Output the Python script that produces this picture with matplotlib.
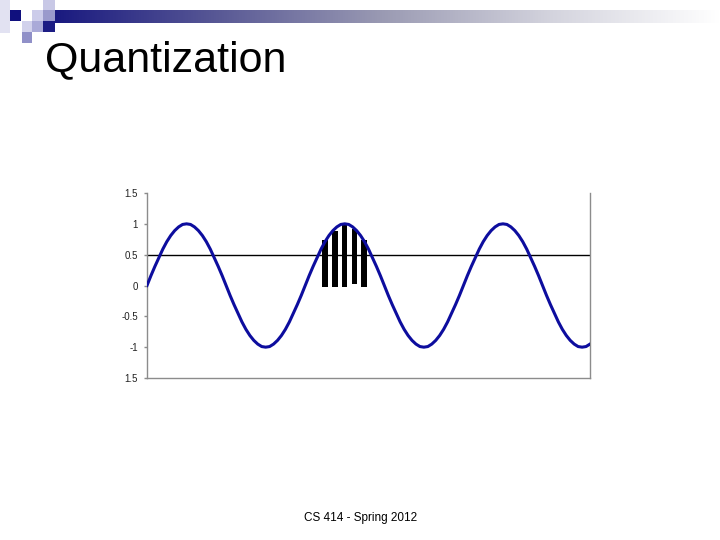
import numpy as np
import matplotlib
matplotlib.use("Agg")
import matplotlib.pyplot as plt
from matplotlib.patches import Rectangle
from matplotlib.colors import LinearSegmentedColormap

# ---- data ----
# sampled signal (40 samples per period), index positions 0..112
signal = [0, 0.16, 0.31, 0.45, 0.59, 0.71, 0.81, 0.89, 0.95, 0.99,
          1.0, 0.99, 0.95, 0.89, 0.81, 0.71, 0.59, 0.45, 0.31, 0.16,
          0, -0.16, -0.31, -0.45, -0.59, -0.71, -0.81, -0.89, -0.95, -0.99,
          -1.0, -0.99, -0.95, -0.89, -0.81, -0.71, -0.59, -0.45, -0.31, -0.16,
          0, 0.16, 0.31, 0.45, 0.59, 0.71, 0.81, 0.89, 0.95, 0.99,
          1.0, 0.99, 0.95, 0.89, 0.81, 0.71, 0.59, 0.45, 0.31, 0.16,
          0, -0.16, -0.31, -0.45, -0.59, -0.71, -0.81, -0.89, -0.95, -0.99,
          -1.0, -0.99, -0.95, -0.89, -0.81, -0.71, -0.59, -0.45, -0.31, -0.16,
          0, 0.16, 0.31, 0.45, 0.59, 0.71, 0.81, 0.89, 0.95, 0.99,
          1.0, 0.99, 0.95, 0.89, 0.81, 0.71, 0.59, 0.45, 0.31, 0.16,
          0, -0.16, -0.31, -0.45, -0.59, -0.71, -0.81, -0.89, -0.95, -0.99,
          -1.0, -0.99, -0.95]
bar_x = [45.0, 47.5, 50.0, 52.5, 54.9]
bar_top = [0.73, 0.89, 0.98, 0.91, 0.73]
bar_bottom = [-0.03, -0.03, -0.03, 0.02, -0.03]
level_line = 0.5
yticks = [1.5, 1, 0.5, 0, -0.5, -1, -1.5]
ytick_labels = ["1.5", "1", "0.5", "0", "-0.5", "-1", "1.5"]
title = "Quantization"
footer = "CS 414 - Spring 2012"

W, H = 720, 540
fig = plt.figure(figsize=(7.2, 5.4), dpi=100)
fig.patch.set_facecolor("white")
FONT = ["Liberation Sans", "DejaVu Sans"]

def px_rect(x, y, w, h, color):
    fig.patches.append(Rectangle((x / W, 1 - (y + h) / H), w / W, h / H,
                                 transform=fig.transFigure, facecolor=color,
                                 edgecolor="none", zorder=1))

# decorative squares
px_rect(0, 0, 10, 33, "#e2e2f2")
px_rect(10, 10, 11, 11, "#10107e")
px_rect(43, 0, 12, 10, "#c8c8e6")
px_rect(32, 10, 11, 11, "#ccccea")
px_rect(43, 10, 12, 11, "#9a9acc")
px_rect(22, 21, 10, 11, "#d2d2ec")
px_rect(32, 21, 11, 11, "#aaaad8")
px_rect(43, 21, 12, 11, "#1c1c84")
px_rect(22, 32, 10, 11, "#9090c8")

# gradient bar
gax = fig.add_axes([55 / W, 1 - 23 / H, (W - 55) / W, 13 / H])
cmap = LinearSegmentedColormap.from_list(
    "g", [(0, "#1a1a80"), (0.25, "#5a5a96"), (0.5, "#9c9cb4"),
          (0.75, "#d4d4de"), (1.0, "#ffffff")])
gax.imshow(np.linspace(0, 1, 256)[None, :], aspect="auto", cmap=cmap)
gax.set_axis_off()

fig.text(45 / W, 1 - 71 / H, title, fontsize=31, family=FONT,
         va="baseline", ha="left", color="black")
fig.text(361 / W, 1 - 521 / H, footer, fontsize=8.5, family=FONT,
         va="baseline", ha="center", color="black")

# chart
ax = fig.add_axes([147 / W, 1 - 378 / H, 443 / W, 185 / H])
x = np.arange(len(signal))
ax.set_xlim(0, len(signal) - 1)
ax.set_ylim(-1.5, 1.5)

ax.axhline(level_line, color="black", lw=1.0, zorder=2)
ax.bar(bar_x, np.array(bar_top) - np.array(bar_bottom), bottom=bar_bottom,
       width=1.34, color="black", zorder=3)
ax.plot(x, signal, color="#0d0d9e", lw=2.2, zorder=4, solid_joinstyle="round")

for s in ["left", "bottom", "right"]:
    ax.spines[s].set_color("#8c8c8c")
    ax.spines[s].set_linewidth(1.0)
ax.spines["top"].set_visible(False)
ax.set_xticks([])
ax.set_yticks(yticks)
ax.set_yticklabels(ytick_labels, fontsize=7, family=FONT, color="#222222")
ax.tick_params(axis="y", length=2.5, width=1, color="#8c8c8c", pad=4)

fig.savefig("out.png", dpi=100, facecolor="white")
